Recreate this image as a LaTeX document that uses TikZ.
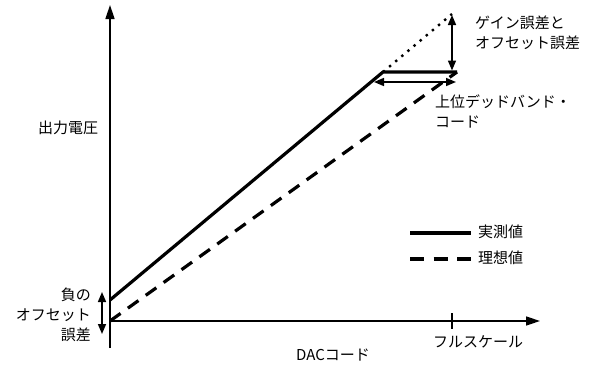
\documentclass[tikz,border=0pt]{standalone}
\usepackage{fontspec}
\setmainfont{Noto Sans CJK JP}
\usetikzlibrary{arrows.meta}
\tikzset{
  axis/.style={line width=1.6pt,-{Triangle[length=14pt,width=9pt]}},
  dimarrow/.style={line width=1.6pt,{Triangle[length=10pt,width=8pt]}-{Triangle[length=10pt,width=8pt]}},
  actual/.style={line width=3.2pt},
  ideal/.style={line width=3.2pt,dash pattern=on 13pt off 9pt},
  extend/.style={line width=2.4pt,dash pattern=on 2.4pt off 5.6pt},
  lbl/.style={font=\fontsize{15pt}{20pt}\selectfont,inner sep=0pt}
}
\begin{document}
\begin{tikzpicture}[x=1pt,y=-1pt]
\useasboundingbox (0,0) rectangle (599,372);
% coordinates
\coordinate (O) at (110,321);
\coordinate (ytop) at (110,5);
\coordinate (ybot) at (110,348);
\coordinate (xend) at (540,321);
\coordinate (astart) at (110,300);
\coordinate (aknee) at (383,72);
\coordinate (aend) at (457,72);
\coordinate (dtop) at (452,14);
\coordinate (tickt) at (452,313);
\coordinate (tickb) at (452,329);
% axes
\draw[axis] (ybot) -- (ytop);
\draw[axis] (O) -- (xend);
\draw[line width=1.2pt] (tickt) -- (tickb);
% curves
\draw[ideal] (O) -- (aend);
\draw[actual] (astart) -- (aknee) -- (aend);
\draw[extend] (aknee) -- (dtop);
% dimension arrows
\coordinate (va) at (452,15);
\coordinate (vb) at (452,70.5);
\draw[dimarrow] (va) -- (vb);
\coordinate (ha) at (374,82);
\coordinate (hb) at (456,82);
\draw[dimarrow] (ha) -- (hb);
\coordinate (la) at (102,292);
\coordinate (lb) at (102,334);
\draw[dimarrow] (la) -- (lb);
% legend
\coordinate (l1a) at (410,233);
\coordinate (l1b) at (471,233);
\coordinate (l2a) at (410,259);
\coordinate (l2b) at (471,259);
\draw[actual] (l1a) -- (l1b);
\draw[line width=3.2pt,dash pattern=on 14pt off 9.5pt] (l2a) -- (l2b);
\node[lbl,anchor=west] (leg1) at (478,232) {実測値};
\node[lbl,anchor=west] (leg2) at (478,258) {理想値};
% labels
\node[lbl] (yl) at (68,128) {出力電圧};
\node[lbl] (xl) at (333,355) {DACコード};
\node[lbl] (fs) at (478,342) {フルスケール};
\node[lbl,anchor=north west,align=left] (ge) at (475,16) {ゲイン誤差と\\オフセット誤差};
\node[lbl,anchor=north west,align=left] (db) at (435,95) {上位デッドバンド・\\コード};
\node[lbl,anchor=north east,align=right] (no) at (91,288) {負の\\オフセット\\誤差};
\end{tikzpicture}
\end{document}
